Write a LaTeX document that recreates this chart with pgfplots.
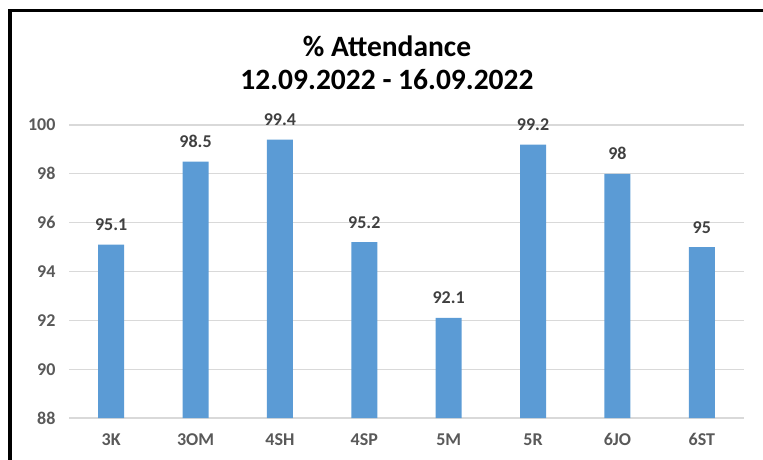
\documentclass[border=0pt]{standalone}
\usepackage{pgfplots}
\pgfplotsset{compat=1.18}
\usepackage{fontspec}
\setmainfont{Carlito}
\definecolor{barblue}{HTML}{5B9BD5}
\definecolor{gridgray}{HTML}{D9D9D9}
\definecolor{ticktext}{HTML}{595959}
\definecolor{labeltext}{HTML}{404040}
\begin{document}
\begin{tikzpicture}[x=1pt,y=1pt]
\useasboundingbox (0,0) rectangle (763,-460);
\draw[line width=3.5pt] (9.75,-460) -- (9.75,-10.5) -- (763,-10.5);
\node[font=\fontsize{29.5}{32}\selectfont\bfseries] at (387,-46) {\% Attendance};
\node[font=\fontsize{29.5}{32}\selectfont\bfseries] at (387,-80) {12.09.2022 - 16.09.2022};
\begin{axis}[
  at={(69pt,-418pt)}, anchor=south west,
  scale only axis, width=675pt, height=293pt,
  ymin=88, ymax=100, ytick={88,90,...,100},
  xmin=-0.5, xmax=7.5, xtick=data,
  xticklabels={3K,3OM,4SH,4SP,5M,5R,6JO,6ST},
  axis line style={draw=none},
  major tick length=0pt,
  ymajorgrids, grid style={gridgray, line width=1.3pt},
  tick label style={font=\fontsize{18}{21}\selectfont\bfseries, text=ticktext},
  /pgf/number format/assume math mode=true,
  yticklabel style={xshift=-10pt},
  xticklabel style={yshift=-12pt},
  nodes near coords,
  every node near coord/.append style={font=\fontsize{18}{21}\selectfont\bfseries, text=labeltext, anchor=base, inner sep=0pt, yshift=14pt},
  point meta=explicit symbolic,
  clip=false,
]
\addplot[ybar, bar width=26pt, fill=barblue, draw=none, bar shift=0pt]
  coordinates {(0,95.1) [95.1] (1,98.5) [98.5] (2,99.4) [99.4] (3,95.2) [95.2] (4,92.1) [92.1] (5,99.2) [99.2] (6,98) [98] (7,95) [95]};
\end{axis}
\end{tikzpicture}
\end{document}
